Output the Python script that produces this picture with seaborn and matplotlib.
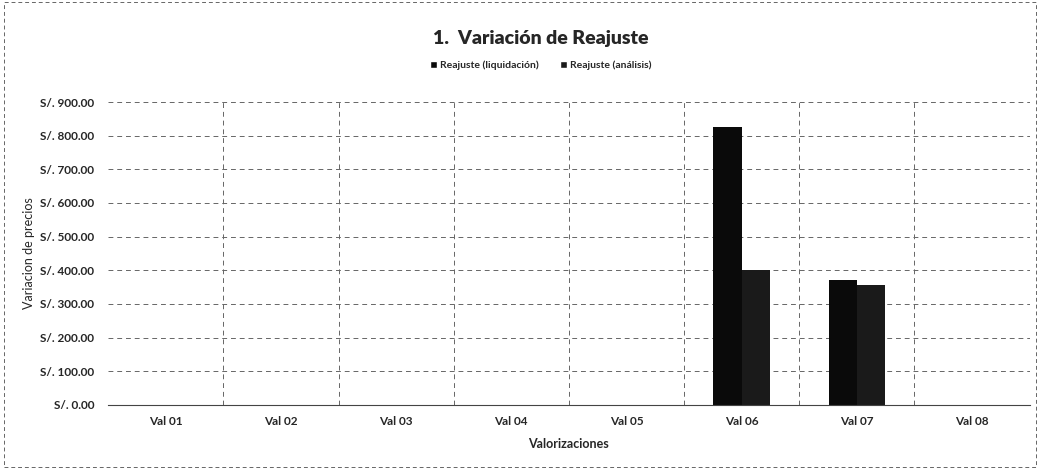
import matplotlib
matplotlib.use("Agg")
import matplotlib.pyplot as plt
import seaborn as sns
import pandas as pd
from matplotlib.ticker import FuncFormatter, MultipleLocator
from matplotlib.patches import Patch, Rectangle

categories = ["Val 01", "Val 02", "Val 03", "Val 04", "Val 05", "Val 06", "Val 07", "Val 08"]
reajuste_liquidacion = [0, 0, 0, 0, 0, 826, 371, 0]
reajuste_analisis = [0, 0, 0, 0, 0, 401, 357, 0]
series_names = ["Reajuste (liquidación)", "Reajuste (análisis)"]

df = pd.DataFrame({
    "cat": categories * 2,
    "val": reajuste_liquidacion + reajuste_analisis,
    "serie": [series_names[0]] * len(categories) + [series_names[1]] * len(categories),
})

sns.set_theme(style="white")
plt.rcParams["font.family"] = ["Lato", "DejaVu Sans"]

fig = plt.figure(figsize=(10.4, 4.69), dpi=100)
ax = fig.add_axes([0.104, 0.1365, 0.886, 0.646])

sns.barplot(data=df, x="cat", y="val", hue="serie", order=categories,
            hue_order=series_names, palette=["#0a0a0a", "#1a1a1a"],
            width=0.49, ax=ax, legend=False, saturation=1, linewidth=0)

ax.set_ylim(0, 900)
ax.set_xlim(-0.5, 7.5)
ax.yaxis.set_major_locator(MultipleLocator(100))
ax.yaxis.set_major_formatter(FuncFormatter(lambda v, p: f"S/. {v:,.2f}"))
ax.tick_params(axis="y", labelsize=8.5, length=0, pad=10)
ax.tick_params(axis="x", labelsize=8.5, length=0, pad=8)
for lab in ax.get_yticklabels() + ax.get_xticklabels():
    lab.set_fontweight("bold")

ax.yaxis.grid(True, linestyle=(0, (5, 4)), color="#666666", linewidth=0.7)
for xb in [i + 0.5 for i in range(7)]:
    ax.axvline(xb, linestyle=(0, (5, 4)), color="#666666", linewidth=0.7, zorder=0)
ax.set_axisbelow(True)
for s in ax.spines.values():
    s.set_visible(False)
ax.spines["bottom"].set_visible(True)
ax.spines["bottom"].set_color("#444444")
ax.spines["bottom"].set_linewidth(0.8)

ax.set_xlabel("Valorizaciones", fontsize=9, fontweight="bold", labelpad=8)
ax.set_ylabel("Variacion de precios", fontsize=9, labelpad=4)

fig.text(0.52, 0.918, "1.  Variación de Reajuste", ha="center", va="center",
         fontsize=14, fontweight="heavy")

handles = [Patch(facecolor="#0a0a0a"), Patch(facecolor="#1a1a1a")]
fig.legend(handles, series_names, loc="center", bbox_to_anchor=(0.52, 0.861),
           ncol=2, frameon=False, handlelength=0.7, handleheight=0.7,
           handletextpad=0.3, columnspacing=2.0, prop={"weight": "bold", "size": 7.5})

fig.patches.append(Rectangle((0.004, 0.004), 0.992, 0.992, transform=fig.transFigure,
                             fill=False, linestyle=(0, (4, 3)), edgecolor="#666666", linewidth=0.7))

fig.savefig("out.png", dpi=100)
